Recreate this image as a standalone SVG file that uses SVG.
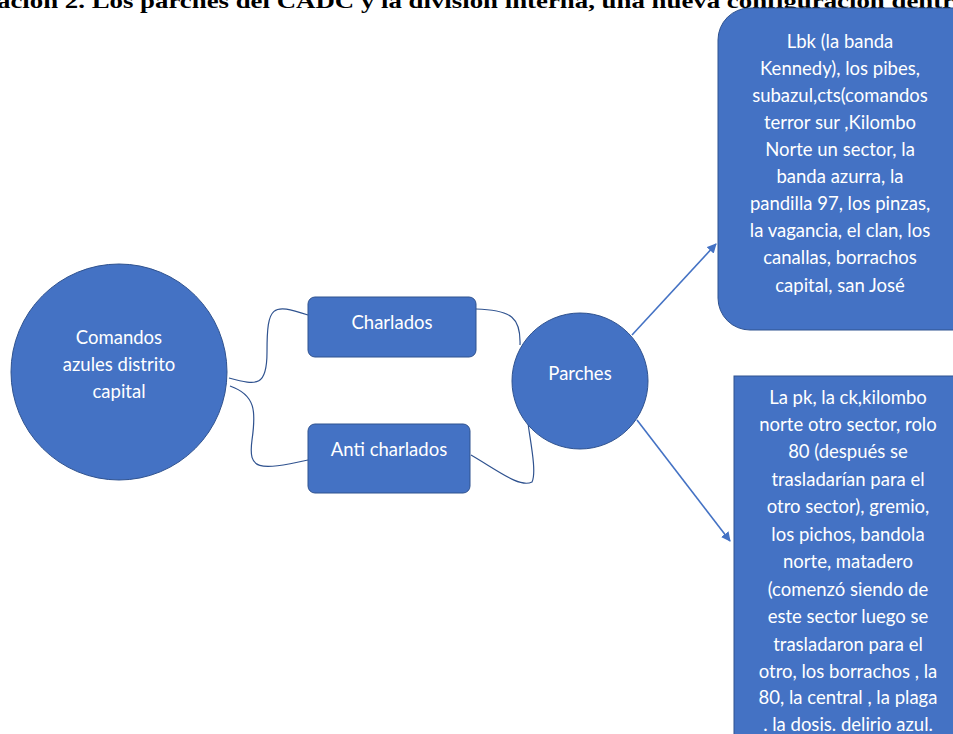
<svg xmlns="http://www.w3.org/2000/svg" width="953" height="734" viewBox="0 0 953 734">
<defs>
<style>
.node{fill:#4472C4;stroke:#2F528F;stroke-width:1}
.lbl{fill:#FFFFFF;font-family:Lato,"Open Sans",sans-serif;font-size:18.5px;text-anchor:middle}
.curve{fill:none;stroke:#2F528F;stroke-width:1.2}
.arrow{fill:none;stroke:#4472C4;stroke-width:1.6;marker-end:url(#ah)}
.title{font-family:"Liberation Serif",serif;font-weight:bold;font-size:21px;fill:#000}
</style>
<marker id="ah" viewBox="0 0 10 10" refX="9" refY="5" markerWidth="6" markerHeight="6" orient="auto" markerUnits="strokeWidth">
<path d="M0,0 L10,5 L0,10 Z" fill="#4472C4"/>
</marker>
</defs>
<rect width="953" height="734" fill="#FFFFFF"/>
<text class="title" x="-3" y="8" textLength="970" lengthAdjust="spacingAndGlyphs">ación 2. Los parches del CADC y la división interna, una nueva configuración dentro</text>

<g id="connectors">
<path class="curve" d="M229,378 C258,386 267,386 267,352 C267,305 272,303 308,315"/>
<path class="curve" d="M230,386 C256,395 256,412 252,440 C248,470 258,471 308,460"/>
<path class="curve" d="M476,309 C512,310 521,318 520,345"/>
<path class="curve" d="M471,455 C500,472 520,488 532,482 C537,472 530,440 528,423"/>
<path class="arrow" d="M632,335 L716,244"/>
<path class="arrow" d="M637,420 L730,541"/>
</g>

<g id="comandos">
<circle class="node" cx="119" cy="372" r="108"/>
<text class="lbl" x="119" y="344">Comandos</text>
<text class="lbl" x="119" y="371">azules distrito</text>
<text class="lbl" x="119" y="398">capital</text>
</g>

<g id="charlados">
<rect class="node" x="308" y="297" width="168" height="60" rx="7"/>
<text class="lbl" x="392" y="329">Charlados</text>
</g>

<g id="anticharlados">
<rect class="node" x="308" y="424" width="162" height="69" rx="7"/>
<text class="lbl" x="389" y="456">Anti charlados</text>
</g>

<g id="parches">
<circle class="node" cx="580" cy="381" r="68"/>
<text class="lbl" x="580" y="380">Parches</text>
</g>

<g id="grupo1">
<rect class="node" x="718" y="8" width="270" height="322" rx="32"/>
<text class="lbl" x="840" y="48">Lbk (la banda</text>
<text class="lbl" x="840" y="75">Kennedy), los pibes,</text>
<text class="lbl" x="840" y="102">subazul,cts(comandos</text>
<text class="lbl" x="840" y="129">terror sur ,Kilombo</text>
<text class="lbl" x="840" y="156">Norte un sector, la</text>
<text class="lbl" x="840" y="183">banda azurra, la</text>
<text class="lbl" x="840" y="210">pandilla 97, los pinzas,</text>
<text class="lbl" x="840" y="237">la vagancia, el clan, los</text>
<text class="lbl" x="840" y="264">canallas, borrachos</text>
<text class="lbl" x="840" y="292">capital, san José</text>
</g>

<g id="grupo2">
<rect class="node" x="734" y="376" width="240" height="380"/>
<text class="lbl" x="848" y="404">La pk, la ck,kilombo</text>
<text class="lbl" x="848" y="431">norte otro sector, rolo</text>
<text class="lbl" x="848" y="458">80 (después se</text>
<text class="lbl" x="848" y="486">trasladarían para el</text>
<text class="lbl" x="848" y="513">otro sector), gremio,</text>
<text class="lbl" x="848" y="541">los pichos, bandola</text>
<text class="lbl" x="848" y="568">norte, matadero</text>
<text class="lbl" x="848" y="596">(comenzó siendo de</text>
<text class="lbl" x="848" y="623">este sector luego se</text>
<text class="lbl" x="848" y="651">trasladaron para el</text>
<text class="lbl" x="848" y="678">otro, los borrachos , la</text>
<text class="lbl" x="848" y="704">80, la central , la plaga</text>
<text class="lbl" x="848" y="731">. la dosis. delirio azul.</text>
</g>
</svg>
